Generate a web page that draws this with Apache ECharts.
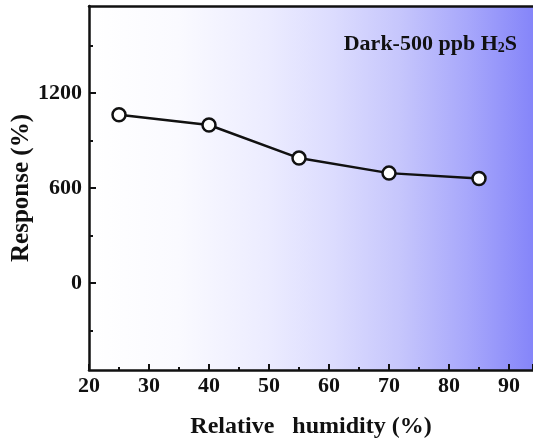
<!DOCTYPE html>
<html>
<head>
<meta charset="utf-8">
<script src="https://cdn.jsdelivr.net/npm/echarts@6/dist/echarts.min.js"></script>
<style>
  html, body { margin: 0; padding: 0; background: #ffffff; }
  #chart { width: 533px; height: 445px; }
</style>
</head>
<body>
<div id="chart"></div>
<script>
// Relative humidity levels (%) and sensor response (%)
const humidity = [25, 40, 55, 70, 85];
const response = [1063, 998, 789, 694, 660];

// Axis ticks
const yMajorTicks = [0, 600, 1200];
const yMinorTicks = [-300, 300, 900, 1500];

const FONT = '"Liberation Serif", "Times New Roman", serif';
const AXIS_COLOR = '#111111';

const chart = echarts.init(document.getElementById('chart'));

const yRange = { min: -550, max: 1750 };

chart.setOption({
  animation: false,
  grid: {
    left: 89, right: 0, top: 6, bottom: 75,
    outerBoundsMode: 'none',
    containLabel: false,
    show: true,
    borderWidth: 0,
    backgroundColor: {
      type: 'linear', x: 0, y: 0, x2: 1, y2: 0,
      colorStops: [
        { offset: 0, color: '#ffffff' },
        { offset: 0.2, color: '#fafaff' },
        { offset: 0.4, color: '#ececff' },
        { offset: 0.55, color: '#dcdcfe' },
        { offset: 0.7, color: '#c6c6fc' },
        { offset: 0.85, color: '#a8a8fb' },
        { offset: 1, color: '#8585f9' }
      ]
    }
  },
  xAxis: [{
    type: 'value',
    min: 20, max: 94, interval: 10,
    name: 'Relative   humidity (%)',
    nameLocation: 'middle',
    nameGap: 45,
    nameTextStyle: { fontFamily: FONT, fontWeight: 'bold', fontSize: 24, color: AXIS_COLOR },
    axisLine: { show: true, onZero: false, lineStyle: { color: AXIS_COLOR, width: 2.5 } },
    axisTick: { show: true, inside: true, length: 6, lineStyle: { color: AXIS_COLOR, width: 2 } },
    minorTick: { show: true, splitNumber: 2, length: 3, lineStyle: { color: AXIS_COLOR, width: 2 } },
    axisLabel: {
      showMaxLabel: false,
      margin: 5,
      formatter: v => String(v),
      fontFamily: FONT, fontWeight: 'bold', fontSize: 22, color: AXIS_COLOR
    },
    splitLine: { show: false }
  }, {
    type: 'value', position: 'top',
    min: 20, max: 94,
    axisLine: { show: true, onZero: false, lineStyle: { color: AXIS_COLOR, width: 2.5 } },
    axisTick: { show: false },
    axisLabel: { show: false },
    splitLine: { show: false }
  }],
  yAxis: [{
    type: 'value',
    min: yRange.min, max: yRange.max,
    axisLine: { show: true, onZero: false, lineStyle: { color: AXIS_COLOR, width: 2.5 } },
    axisTick: { show: true, inside: true, length: 7, customValues: yMajorTicks, lineStyle: { color: AXIS_COLOR, width: 2 } },
    axisLabel: {
      customValues: yMajorTicks,
      margin: 7,
      formatter: v => String(v),
      fontFamily: FONT, fontWeight: 'bold', fontSize: 22, color: AXIS_COLOR
    },
    splitLine: { show: false }
  }, {
    type: 'value', position: 'left',
    min: yRange.min, max: yRange.max,
    axisLine: { show: false, onZero: false },
    axisTick: { show: true, inside: true, length: 4, customValues: yMinorTicks, lineStyle: { color: AXIS_COLOR, width: 2 } },
    axisLabel: { show: false },
    splitLine: { show: false }
  }],
  graphic: [{
    // y-axis title, rotated to read bottom-to-top
    type: 'text',
    x: 22,
    y: 188,
    rotation: Math.PI / 2,
    z: 10,
    style: {
      text: 'Response (%)',
      fontFamily: FONT, fontWeight: 'bold', fontSize: 25, fill: AXIS_COLOR,
      align: 'center', verticalAlign: 'middle'
    }
  }, {
    type: 'text',
    right: 16,
    top: 33,
    z: 10,
    style: {
      text: '{a|Dark-500 ppb H}{s|2}{a|S}',
      rich: {
        a: { fontFamily: FONT, fontWeight: 'bold', fontSize: 22, fill: AXIS_COLOR, color: AXIS_COLOR },
        s: { fontFamily: FONT, fontWeight: 'bold', fontSize: 14, fill: AXIS_COLOR, color: AXIS_COLOR, padding: [8, 0, 0, 0] }
      }
    }
  }],
  series: [{
    type: 'line',
    xAxisIndex: 0,
    yAxisIndex: 0,
    data: humidity.map((h, i) => [h, response[i]]),
    symbol: 'circle',
    symbolSize: 13,
    lineStyle: { color: AXIS_COLOR, width: 2.5 },
    itemStyle: { color: '#ffffff', borderColor: AXIS_COLOR, borderWidth: 2.5 },
    z: 5
  }]
});
</script>
</body>
</html>
